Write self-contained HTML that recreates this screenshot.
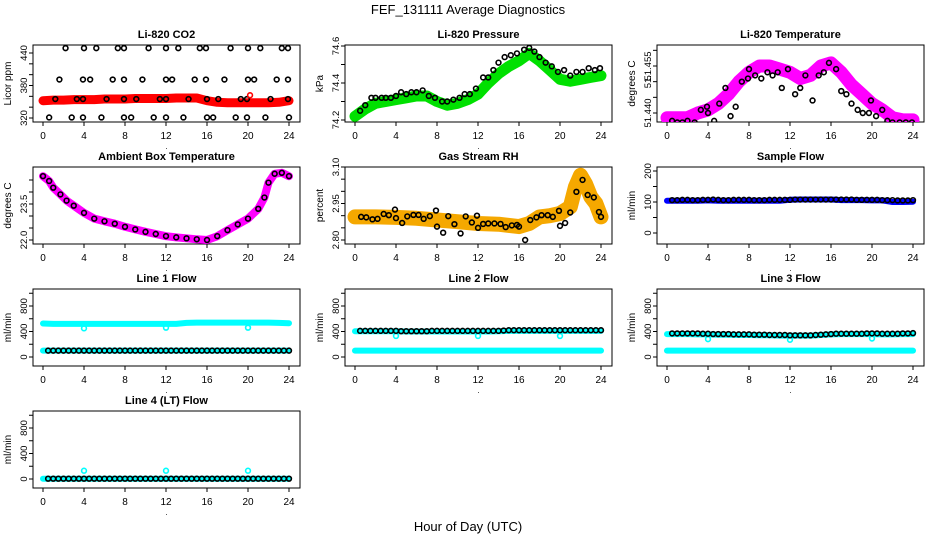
<!DOCTYPE html>
<html><head><meta charset="utf-8">
<style>
html,body{margin:0;padding:0;background:#fff;}
svg{display:block;font-family:"Liberation Sans",Arial,sans-serif;}
</style></head>
<body>
<svg id="chart" width="936" height="540" viewBox="0 0 936 540">
<text x="468" y="14" text-anchor="middle" font-size="13">FEF_131111  Average Diagnostics</text>
<text x="468" y="531" text-anchor="middle" font-size="13">Hour of Day (UTC)</text>
</svg>
<script>
// ---------- data ----------
const xTicks = [0,4,8,12,16,20,24];
const H25 = [0,1,2,3,4,5,6,7,8,9,10,11,12,13,14,15,16,17,18,19,20,21,22,23,24];
const H48 = [0.5,1,1.5,2,2.5,3,3.5,4,4.5,5,5.5,6,6.5,7,7.5,8,8.5,9,9.5,10,10.5,11,11.5,12,12.5,13,13.5,14,14.5,15,15.5,16,16.5,17,17.5,18,18.5,19,19.5,20,20.5,21,21.5,22,22.5,23,23.5,24];

// CO2
const co2Band = [352,353,353,354,354,354,355,355,355,356,356,356,356,357,357,357,352,349,348,348,348,348,348,349,352];
const co2PtH = [2.2,4.0,5.2,7.3,7.9,10.3,12.0,13.2,15.3,15.9,18.3,20.0,21.2,23.3,23.9,
 1.6,3.9,4.6,6.8,7.9,9.7,12.0,12.6,14.8,15.9,17.7,20.0,20.6,22.8,23.9,
 1.2,3.3,3.9,6.2,7.9,9.1,11.4,12.0,14.2,16.0,17.1,19.3,19.9,22.2,23.9,
 0.6,2.8,3.9,5.7,7.9,8.6,10.8,12.0,13.7,16.0,16.6,18.8,19.9,21.7,24.0];
const co2PtV = [449,449,449,449,449,449,449,449,449,449,449,449,449,449,449,
 391,391,391,391,391,391,391,391,391,391,391,391,391,391,391,
 355,355,355,355,355,355,355,355,355,355,355,355,355,355,355,
 321,321,321,321,321,321,321,321,321,321,321,321,321,321,321];

// Pressure
const presBand = [74.22,74.26,74.29,74.30,74.31,74.32,74.33,74.33,74.30,74.28,74.29,74.31,74.34,74.40,74.45,74.49,74.52,74.56,74.52,74.47,74.42,74.41,74.42,74.43,74.44];
const presPtH = [0.5,1,1.6,2,2.6,3,3.5,4,4.5,5,5.5,6,6.6,7.2,7.8,8.5,9,9.6,10.2,10.7,11.2,11.8,12.5,13,13.5,14,14.6,15.2,15.8,16.5,17,17.5,18,18.6,19.2,19.8,20.4,21,21.6,22.2,22.8,23.4,23.9];
const presPtV = [74.25,74.28,74.32,74.32,74.32,74.32,74.32,74.33,74.35,74.34,74.35,74.35,74.36,74.33,74.32,74.30,74.30,74.31,74.32,74.34,74.34,74.37,74.43,74.43,74.47,74.51,74.54,74.55,74.56,74.58,74.59,74.57,74.54,74.51,74.49,74.46,74.47,74.44,74.46,74.46,74.48,74.47,74.48];

// Li-820 temperature
const tempBand = [51.4385,51.4385,51.4385,51.440,51.441,51.443,51.446,51.450,51.453,51.455,51.455,51.454,51.453,51.451,51.452,51.455,51.456,51.453,51.449,51.446,51.443,51.441,51.4385,51.4378,51.4378];
const tempPtH = [0.5,1,1.5,2,2.7,3.3,3.9,4,4.6,5.1,5.7,6.2,6.7,7.3,7.9,8,8.6,9.2,9.8,10.3,10.8,11.2,11.8,12.5,13,13.5,14.2,14.8,15.3,15.8,16.5,17,17.5,18,18.6,19.1,19.7,19.9,20.4,21,21.5,22,22.7,23.3,23.9];
const tempPtV = [51.4375,51.437,51.437,51.4375,51.437,51.441,51.442,51.440,51.4375,51.443,51.448,51.439,51.442,51.450,51.451,51.454,51.452,51.451,51.453,51.452,51.453,51.448,51.454,51.446,51.448,51.452,51.444,51.452,51.453,51.456,51.454,51.447,51.446,51.443,51.441,51.440,51.440,51.444,51.439,51.441,51.4375,51.437,51.437,51.437,51.437];

// Ambient box temperature
const ambH = [0,0.6,1,1.7,2.3,3,4,5,6,7,8,9,10,11,12,13,14,15,16,17,18,19,20,21,21.6,22,22.6,23.3,24];
const ambV = [24.66,24.46,24.18,23.9,23.64,23.43,23.13,22.89,22.78,22.68,22.55,22.44,22.34,22.25,22.16,22.11,22.07,22.03,22.0,22.16,22.41,22.65,22.89,23.3,23.77,24.39,24.76,24.8,24.66];

// Gas stream RH
const rhBandH = [0,2,4,6,8,10,12,14,16,17,18,19,20,21,21.5,22,22.5,23,23.5,24];
const rhBandV = [2.895,2.895,2.893,2.889,2.882,2.875,2.868,2.865,2.855,2.868,2.895,2.900,2.909,2.936,3.018,3.066,3.030,2.977,2.950,2.895];
const rhPtH = [0.6,1.1,1.7,2.2,2.8,3.3,3.9,4.0,4.6,5.1,5.7,6.2,6.7,7.3,7.9,8.0,8.6,9.1,9.7,10.3,10.8,11.4,11.9,12.0,12.5,13.0,13.6,14.2,14.7,15.3,15.8,16.0,16.6,17.1,17.7,18.2,18.8,19.3,19.9,20.0,20.5,21.0,21.6,22.2,22.7,23.3,23.8,24.0];
const rhPtV = [2.895,2.893,2.885,2.887,2.907,2.902,2.925,2.890,2.870,2.897,2.903,2.903,2.887,2.898,2.921,2.855,2.830,2.898,2.865,2.827,2.897,2.872,2.900,2.850,2.866,2.868,2.868,2.866,2.853,2.860,2.862,2.855,2.800,2.882,2.893,2.902,2.902,2.895,2.920,2.858,2.870,2.913,2.998,3.047,2.985,2.975,2.915,2.895];

// Sample flow
const sampBand = [104,104,104,104,105,104,104,104,104,104,104,104,107,108,108,108,108,106,106,106,105,105,100,100,101];
const sampPt = [106,106,107,107,106,106,107,107,108,107,106,106,107,107,107,107,106,106,106,107,107,107,107,107,108,108,108,108,108,108,108,108,108,108,108,108,107,107,107,107,107,106,106,106,105,105,105,106];

// Line flows
const l1Black = [100,100,100,100,100,100,100,100,100,100,100,100,100,100,100,100,100,100,100,100,100,100,100,100,100,100,100,100,100,100,100,100,100,100,100,100,100,100,100,100,100,100,100,100,100,100,100,100];
const l1CyanHi = [525,520,520,520,520,520,520,520,520,520,520,520,520,520,535,540,540,540,540,540,540,540,540,535,530];
const l1CyanLo = [100,100,100,100,100,100,100,100,100,100,100,100,100,100,100,100,100,100,100,100,100,100,100,100,100];
const l1OutH = [4,12,20];
const l1OutV = [450,460,460];

const l2Black = [410,410,410,410,410,410,410,410,405,405,405,405,405,405,410,410,410,410,410,410,410,410,410,410,410,410,410,410,415,420,420,420,420,420,420,420,420,420,420,420,420,420,420,420,420,420,420,420];
const l2CyanHi = [405,405,405,405,405,400,400,400,400,400,400,400,400,400,405,410,410,410,410,410,410,410,410,410,410];
const l2CyanLo = [100,100,100,100,100,100,100,100,100,100,100,100,100,100,100,100,100,100,100,100,100,100,100,100,100];
const l2OutH = [4,12,20];
const l2OutV = [330,330,330];

const l3Black = [370,370,370,370,370,370,365,365,360,360,360,360,355,355,355,355,350,350,350,345,345,345,345,340,340,340,340,340,345,350,355,360,365,365,365,365,365,365,370,370,370,365,365,365,365,370,370,375];
const l3CyanHi = [360,360,360,355,355,350,350,345,345,340,340,335,335,335,335,345,355,360,360,360,360,355,355,360,360];
const l3CyanLo = [100,100,100,100,100,100,100,100,100,100,100,100,100,100,100,100,100,100,100,100,100,100,100,100,100];
const l3OutH = [4,12,20];
const l3OutV = [280,270,290];

const l4Black = [5,5,5,5,5,5,5,5,5,5,5,5,5,5,5,5,5,5,5,5,5,5,5,5,5,5,5,5,5,5,5,5,5,5,5,5,5,5,5,5,5,5,5,5,5,5,5,5];
const l4CyanLo = [5,5,5,5,5,5,5,5,5,5,5,5,5,5,5,5,5,5,5,5,5,5,5,5,5];
const l4OutH = [4,12,20];
const l4OutV = [130,130,130];

// ---------- drawing ----------
const NS = 'http://www.w3.org/2000/svg';
const svg = document.getElementById('chart');
const colLeft = [33,345,657], rowTop = [45,167,289,411], BW = 267, BH = 77;

function mk(parent, tag, attrs){
  const e = document.createElementNS(NS, tag);
  for (const k in attrs) e.setAttribute(k, attrs[k]);
  parent.appendChild(e);
  return e;
}

function panel(name, col, row, title, ylab, v0, p0, v1, p1, yTicks, yLabels){
  const L = colLeft[col], T = rowTop[row];
  const g = mk(svg, 'g', {});
  
  
  const x = h => L + 10 + h * 10.25;
  const y = v => T + p0 + (v - v0) * (p1 - p0) / (v1 - v0);
  const box = mk(g, 'rect', {x:L, y:T, width:BW, height:BH, fill:'none', stroke:'#000', 'stroke-width':1});
  
  
  const t = mk(g, 'text', {x:L + BW/2, y:T - 7, 'text-anchor':'middle', 'font-size':11, 'font-weight':'bold'});
  t.textContent = title;
  
  
  const yl = mk(g, 'text', {x:0, y:0, 'text-anchor':'middle', 'font-size':10, transform:`translate(${L-22},${T+BH/2}) rotate(-90)`});
  yl.textContent = ylab;
  
  
  const xa = mk(g, 'g', {stroke:'#000', 'stroke-width':1});
  
  
  mk(xa, 'line', {x1:x(xTicks[0]), x2:x(xTicks[xTicks.length-1]), y1:T+BH, y2:T+BH});
  xTicks.forEach(h => {
    mk(xa, 'line', {x1:x(h), x2:x(h), y1:T+BH, y2:T+BH+4});
    const tl = mk(g, 'text', {x:x(h), y:T+BH+17, 'text-anchor':'middle', 'font-size':10});
    tl.textContent = String(h);
    
    
  });
  const dot = mk(g, 'text', {x:L + BW/2, y:T+BH+27, 'text-anchor':'middle', 'font-size':8});
  dot.textContent = '.';
  const ya = mk(g, 'g', {stroke:'#000', 'stroke-width':1});
  
  
  mk(ya, 'line', {x1:L, x2:L, y1:y(yTicks[0]), y2:y(yTicks[yTicks.length-1])});
  yTicks.forEach((v, i) => {
    mk(ya, 'line', {x1:L-4, x2:L, y1:y(v), y2:y(v)});
    if (yLabels[i]) {
      const tl = mk(g, 'text', {x:0, y:0, 'text-anchor':'middle', 'font-size':9.5, transform:`translate(${L-6},${y(v)}) rotate(-90)`});
      tl.textContent = yLabels[i];
      
      
    }
  });
  const clip = 'clip-' + name;
  const cp = mk(g, 'clipPath', {id:clip});
  mk(cp, 'rect', {x:L, y:T, width:BW, height:BH});
  const data = mk(g, 'g', {'clip-path':`url(#${clip})`});
  return {g:data, x, y, name};
}

function band(p, hours, vals, color, w, nm){
  const pts = hours.map((h, i) => p.x(h).toFixed(1) + ',' + p.y(vals[i]).toFixed(1)).join(' ');
  const pl = mk(p.g, 'polyline', {points:pts, fill:'none', stroke:color, 'stroke-width':w, 'stroke-linejoin':'round', 'stroke-linecap':'round'});
  
  
}
function points(p, hours, vals, color, nm, r){
  const gg = mk(p.g, 'g', {fill:'none', stroke:color, 'stroke-width':1.6});
  
  
  hours.forEach((h, i) => {
    const c = mk(gg, 'circle', {cx:p.x(h), cy:p.y(vals[i]), r:r || 2.4});
    
    
  });
}

let p;
p = panel('co2', 0, 0, 'Li-820 CO2', 'Licor ppm', 320, 73, 440, 8, [320,340,360,380,400,420,440], ['320','','','380','','','440']);
band(p, H25, co2Band, '#ff0000', 9, 'red-band');
points(p, co2PtH, co2PtV, '#000', 'black-points');
points(p, [20.2], [362], '#ff0000', 'red-outlier');

p = panel('pressure', 1, 0, 'Li-820 Pressure', 'kPa', 74.2, 75, 74.6, 1, [74.2,74.3,74.4,74.5,74.6], ['74.2','','74.4','','74.6']);
band(p, H25, presBand, '#00e000', 11, 'green-band');
points(p, presPtH, presPtV, '#000', 'black-points');

p = panel('li820-temp', 2, 0, 'Li-820 Temperature', 'degrees C', 51.440, 68, 51.455, 21, [51.440,51.445,51.450,51.455,51.460], ['51.440','','51.','51.455','']);
band(p, H25, tempBand, '#ff00ff', 13, 'magenta-band');
points(p, tempPtH, tempPtV, '#000', 'black-points');

p = panel('ambient-temp', 0, 1, 'Ambient Box Temperature', 'degrees C', 22.0, 73, 24.5, 13, [22.0,22.5,23.0,23.5,24.0,24.5], ['22.0','','','23.5','','']);
band(p, ambH, ambV, '#ff00ff', 8, 'magenta-band');
points(p, ambH, ambV, '#000', 'black-points');

p = panel('rh', 1, 1, 'Gas Stream RH', 'percent', 2.80, 73, 3.10, 0, [2.80,2.85,2.90,2.95,3.00,3.05,3.10], ['2.80','','','2.95','','','3.10']);
band(p, rhBandH, rhBandV, '#f5a800', 15, 'orange-band');
points(p, rhPtH, rhPtV, '#000', 'black-points');

p = panel('sample-flow', 2, 1, 'Sample Flow', 'ml/min', 0, 66, 200, 4, [0,50,100,150,200], ['0','','100','','200']);
band(p, H25, sampBand, '#0000ff', 6, 'blue-band');
points(p, H48, sampPt, '#000', 'black-points');

const flowTicks = [0,200,400,600,800,1000], flowLabels = ['0','','400','','800',''];
p = panel('line1-flow', 0, 2, 'Line 1 Flow', 'ml/min', 0, 68, 800, 17, flowTicks, flowLabels);
band(p, H25, l1CyanHi, '#00ffff', 6, 'cyan-band-high');
band(p, H25, l1CyanLo, '#00ffff', 6, 'cyan-band-low');
points(p, l1OutH, l1OutV, '#00ffff', 'cyan-outliers');
points(p, H48, l1Black, '#000', 'black-points');

p = panel('line2-flow', 1, 2, 'Line 2 Flow', 'ml/min', 0, 68, 800, 17, flowTicks, flowLabels);
band(p, H25, l2CyanHi, '#00ffff', 6, 'cyan-band-high');
band(p, H25, l2CyanLo, '#00ffff', 6, 'cyan-band-low');
points(p, l2OutH, l2OutV, '#00ffff', 'cyan-outliers');
points(p, H48, l2Black, '#000', 'black-points');

p = panel('line3-flow', 2, 2, 'Line 3 Flow', 'ml/min', 0, 68, 800, 17, flowTicks, flowLabels);
band(p, H25, l3CyanHi, '#00ffff', 6, 'cyan-band-high');
band(p, H25, l3CyanLo, '#00ffff', 6, 'cyan-band-low');
points(p, l3OutH, l3OutV, '#00ffff', 'cyan-outliers');
points(p, H48, l3Black, '#000', 'black-points');

p = panel('line4-flow', 0, 3, 'Line 4 (LT) Flow', 'ml/min', 0, 68, 800, 17, flowTicks, flowLabels);
band(p, H25, l4CyanLo, '#00ffff', 6, 'cyan-band-low');
points(p, l4OutH, l4OutV, '#00ffff', 'cyan-outliers');
points(p, H48, l4Black, '#000', 'black-points');
</script>
</body></html>
